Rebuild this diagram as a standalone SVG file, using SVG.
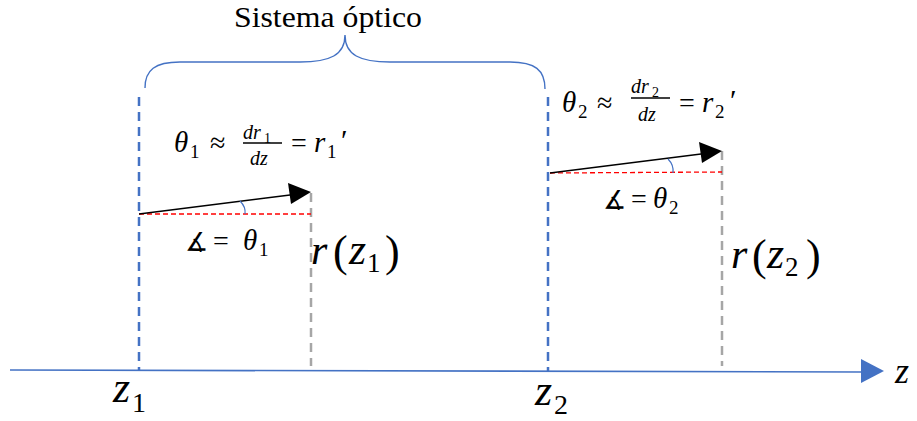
<svg xmlns="http://www.w3.org/2000/svg" width="917" height="421" viewBox="0 0 917 421">
<defs>
<style>
.m{font-family:"Liberation Serif","DejaVu Serif",serif;fill:#000}
.i{font-style:italic}
.blue{stroke:#4472c4;stroke-width:2.5;stroke-dasharray:9 6;fill:none}
.gray{stroke:#a6a6a6;stroke-width:2.5;stroke-dasharray:9 6;fill:none}
.red{stroke:#ff0000;stroke-width:1.3;stroke-dasharray:5 3;fill:none}
.ray{stroke:#000;stroke-width:1.4;fill:none}
.arc{stroke:#4472c4;stroke-width:1.2;fill:none}
</style>
</defs>
<rect width="917" height="421" fill="#fff"/>
<g id="brace">
<path d="M145,88 C145,70 155,62 180,62 L300,62 C330,62 345,55 345,35 C345,55 360,62 390,62 L510,62 C535,62 545,70 545,89" stroke="#4472c4" stroke-width="1.4" fill="none"/>
<text x="234" y="27" font-family="Liberation Serif, serif" font-size="29" textLength="188" lengthAdjust="spacingAndGlyphs">Sistema óptico</text>
</g>
<g id="connectors">
<line class="blue" x1="139" y1="97" x2="139" y2="370"/>
<line class="blue" x1="548" y1="97" x2="548" y2="371"/>
<line class="gray" x1="311" y1="193" x2="311" y2="366"/>
<line class="gray" x1="722" y1="151" x2="722" y2="366"/>
<line class="red" x1="139" y1="214" x2="311" y2="214"/>
<line class="red" x1="550" y1="173" x2="722" y2="172"/>
<path class="ray" d="M139,214 L290,195"/>
<path d="M311,192 L288,183 L291,204 Z" fill="#000"/>
<path class="ray" d="M550,173 L701,154"/>
<path d="M722,151 L699,142 L702,163 Z" fill="#000"/>
<path class="arc" d="M240,201 Q246,207 245,214"/>
<path class="arc" d="M668,159 Q674,165 673,173"/>
<path d="M10,370 L862,372" stroke="#4472c4" stroke-width="1.6" fill="none"/>
<path d="M861,359 L884,371 L861,383 Z" fill="#4472c4"/>
</g>
<g id="node-z1" class="m">
<text x="174" y="152" font-size="29" class="m i">θ</text>
<text x="190" y="158" font-size="19" class="m">1</text>
<text x="210" y="152" font-size="28" class="m">≈</text>
<text x="243" y="139" font-size="20" class="m i">dr</text>
<text x="264" y="143" font-size="14" class="m">1</text>
<line x1="243" y1="143" x2="282" y2="143" stroke="#000" stroke-width="1.3"/>
<text x="250" y="165" font-size="20" class="m i">dz</text>
<text x="291" y="152" font-size="28" class="m">=</text>
<text x="314" y="152" font-size="29" class="m i">r</text>
<text x="327" y="158" font-size="19" class="m">1</text>
<text x="341" y="150" font-size="30" class="m">′</text>
<text x="185" y="251" font-size="26" class="m">∡</text>
<text x="213" y="250" font-size="28" class="m">=</text>
<text x="243" y="250" font-size="29" class="m i">θ</text>
<text x="259" y="256" font-size="19" class="m">1</text>
<text x="311" y="264" font-size="42" class="m i">r</text>
<text x="333" y="266" font-size="44" class="m">(</text>
<text x="349" y="264" font-size="44" class="m i">z</text>
<text x="367" y="272" font-size="27" class="m">1</text>
<text x="385" y="266" font-size="44" class="m">)</text>
<text x="113" y="402" font-size="44" class="m i">z</text>
<text x="132" y="412" font-size="28" class="m">1</text>
</g>
<g id="node-z2" class="m">
<text x="562" y="112" font-size="29" class="m i">θ</text>
<text x="578" y="118" font-size="19" class="m">2</text>
<text x="597" y="112" font-size="28" class="m">≈</text>
<text x="631" y="93" font-size="20" class="m i">dr</text>
<text x="652" y="97" font-size="14" class="m">2</text>
<line x1="631" y1="98" x2="670" y2="98" stroke="#000" stroke-width="1.3"/>
<text x="638" y="121" font-size="20" class="m i">dz</text>
<text x="679" y="112" font-size="28" class="m">=</text>
<text x="702" y="112" font-size="29" class="m i">r</text>
<text x="715" y="118" font-size="19" class="m">2</text>
<text x="730" y="110" font-size="30" class="m">′</text>
<text x="603" y="209" font-size="26" class="m">∡</text>
<text x="631" y="208" font-size="28" class="m">=</text>
<text x="653" y="208" font-size="29" class="m i">θ</text>
<text x="669" y="214" font-size="19" class="m">2</text>
<text x="731" y="268" font-size="42" class="m i">r</text>
<text x="752" y="270" font-size="44" class="m">(</text>
<text x="767" y="268" font-size="44" class="m i">z</text>
<text x="785" y="276" font-size="27" class="m">2</text>
<text x="806" y="270" font-size="44" class="m">)</text>
<text x="535" y="405" font-size="44" class="m i">z</text>
<text x="554" y="414" font-size="28" class="m">2</text>
</g>
<g id="node-axis-label" class="m">
<text x="895" y="383" font-size="36" class="m i">z</text>
</g>
</svg>
